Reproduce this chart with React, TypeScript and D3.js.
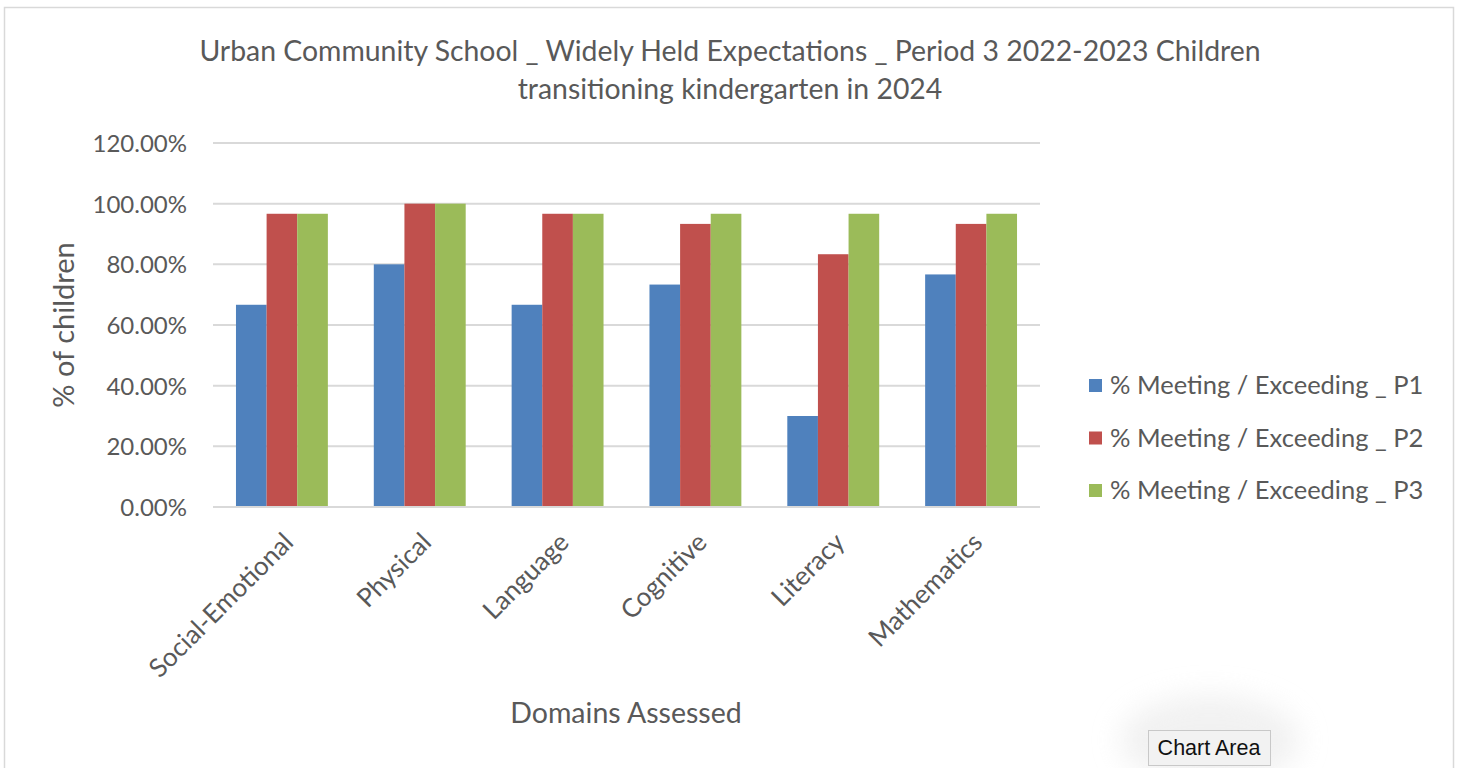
import React from "react";
import * as d3 from "d3";

const categories = ["Social-Emotional", "Physical", "Language", "Cognitive", "Literacy", "Mathematics"];
const seriesNames = ["% Meeting / Exceeding _ P1", "% Meeting / Exceeding _ P2", "% Meeting / Exceeding _ P3"];
const p1 = [66.67, 80, 66.67, 73.33, 30, 76.67];
const p2 = [96.67, 100, 96.67, 93.33, 83.33, 93.33];
const p3 = [96.67, 100, 96.67, 96.67, 96.67, 96.67];
const yTicks = [0, 20, 40, 60, 80, 100, 120];
const colors = ["#4F81BD", "#C0504D", "#9BBB59"];

const FONT = "Lato, 'Open Sans', sans-serif";
const TEXT = "#595959";

export default function App() {
  const W = 1463, H = 768;
  const left = 213, right = 1040, top = 143, bottom = 507;
  const y = d3.scaleLinear().domain([0, 120]).range([bottom, top]);
  // Excel gap width 150%: group = 3w + 1.5w
  const x0 = d3.scaleBand().domain(categories).range([left, right]).padding(0);
  const groupW = x0.bandwidth();
  const barW = groupW / 4.5;
  const series = [p1, p2, p3];
  const xCenter = (c: string) => (x0(c) as number) + groupW / 2;

  return (
    <svg width={W} height={H} style={{ position: "absolute", left: 0, top: 0, background: "#fff" }}>
      <defs>
        <filter id="glow" x="-50%" y="-50%" width="200%" height="200%">
          <feGaussianBlur stdDeviation="14" />
        </filter>
      </defs>
      <rect x={0} y={0} width={W} height={H} fill="#fff" />
      <rect x={4.5} y={7.5} width={1449} height={780} fill="none" stroke="#d9d9d9" strokeWidth={1.5} />
      <text x={730} y={61} textAnchor="middle" fontFamily={FONT} fontSize={28.4} fill={TEXT}>
        Urban Community School _ Widely Held Expectations _ Period 3 2022-2023 Children
      </text>
      <text x={730} y={99} textAnchor="middle" fontFamily={FONT} fontSize={28.4} fill={TEXT}>
        transitioning kindergarten in 2024
      </text>
      {yTicks.map((t) => (
        <g key={t}>
          <line x1={left} x2={right} y1={y(t)} y2={y(t)} stroke="#d9d9d9" strokeWidth={2} />
          <text x={187} y={y(t) + 9} textAnchor="end" fontFamily={FONT} fontSize={24} fill={TEXT}>
            {t.toFixed(2)}%
          </text>
        </g>
      ))}
      {categories.map((c, i) =>
        series.map((s, k) => {
          const bx = xCenter(c) - 1.5 * barW + k * barW;
          return (
            <rect key={c + k} x={bx} y={y(s[i])} width={barW} height={y(0) - y(s[i])} fill={colors[k]} />
          );
        })
      )}
      <line x1={left} x2={right} y1={y(0)} y2={y(0)} stroke="#d9d9d9" strokeWidth={2} />
      {categories.map((c) => (
        <text
          key={c}
          transform={`translate(${xCenter(c) + 13},${bottom + 37}) rotate(-45)`}
          textAnchor="end"
          fontFamily={FONT}
          fontSize={26}
          fill={TEXT}
        >
          {c}
        </text>
      ))}
      <text transform={`translate(74,${(top + bottom) / 2}) rotate(-90)`} textAnchor="middle" fontFamily={FONT} fontSize={29} fill={TEXT}>
        % of children
      </text>
      <text x={626} y={723} textAnchor="middle" fontFamily={FONT} fontSize={28.5} fill={TEXT}>
        Domains Assessed
      </text>
      {seriesNames.map((n, k) => (
        <g key={n}>
          <rect x={1089} y={379 + k * 52.5} width={13} height={13} fill={colors[k]} />
          <text x={1110} y={394 + k * 52.5} fontFamily={FONT} fontSize={25.5} fill={TEXT}>
            {n}
          </text>
        </g>
      ))}
      <ellipse cx={1210} cy={740} rx={90} ry={45} fill="#e8e8e8" opacity={0.6} filter="url(#glow)" />
      <rect x={1148.5} y={730.5} width={122} height={35} fill="#f2f2f2" stroke="#c8c8c8" />
      <text x={1209} y={755} textAnchor="middle" fontFamily="'Liberation Sans', Arial, sans-serif" fontSize={21.5} fill="#111">
        Chart Area
      </text>
    </svg>
  );
}
